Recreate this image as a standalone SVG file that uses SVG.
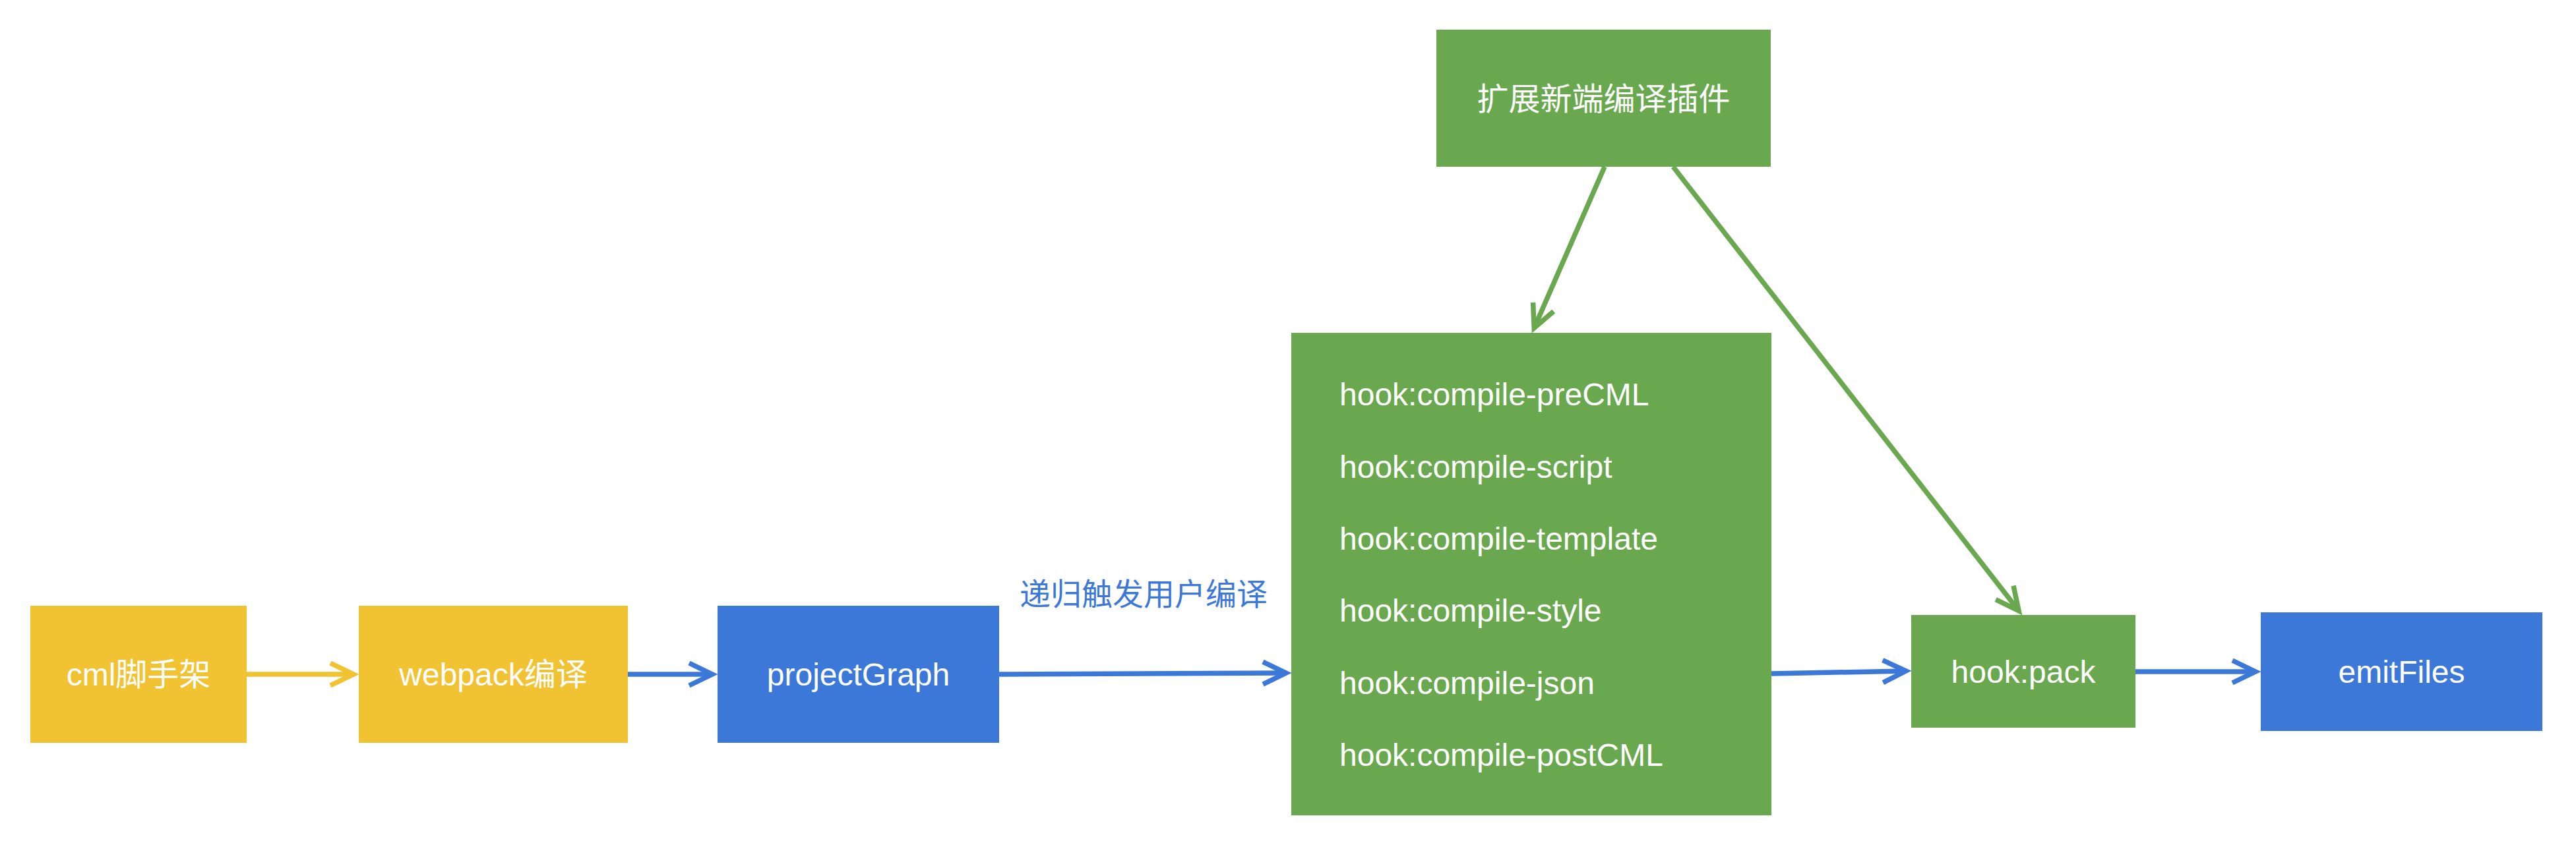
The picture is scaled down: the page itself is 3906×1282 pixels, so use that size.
<svg xmlns="http://www.w3.org/2000/svg" width="3906" height="1282" viewBox="0 0 3906 1282">
  <style>
    .y { fill: #F1C232; }
    .b { fill: #3C78D8; }
    .g { fill: #6AA84F; }
    .t { fill: #FFFFFF; font-family: "Liberation Sans", "Noto Sans CJK SC", sans-serif; font-size: 48px; }
    .c { text-anchor: middle; }
    .lbl { fill: #3C78D8; font-family: "Noto Sans CJK SC", sans-serif; font-size: 47px; text-anchor: middle; }
    .ln { fill: none; stroke-width: 7.5; }
    .ly { stroke: #F1C232; marker-end: url(#ay); }
    .lb { stroke: #3C78D8; marker-end: url(#ab); }
    .lg { stroke: #6AA84F; marker-end: url(#ag); }
  </style>
  <defs>
    <marker id="ay" markerUnits="userSpaceOnUse" markerWidth="80" markerHeight="80" viewBox="-50 -40 80 80" refX="0" refY="0" orient="auto" overflow="visible">
      <path d="M-35,-17 L0,0 L-35,17" fill="none" stroke="#F1C232" stroke-width="7.5" stroke-linejoin="miter"/>
    </marker>
    <marker id="ab" markerUnits="userSpaceOnUse" markerWidth="80" markerHeight="80" viewBox="-50 -40 80 80" refX="0" refY="0" orient="auto" overflow="visible">
      <path d="M-35,-17 L0,0 L-35,17" fill="none" stroke="#3C78D8" stroke-width="7.5" stroke-linejoin="miter"/>
    </marker>
    <marker id="ag" markerUnits="userSpaceOnUse" markerWidth="80" markerHeight="80" viewBox="-50 -40 80 80" refX="0" refY="0" orient="auto" overflow="visible">
      <path d="M-35,-17 L0,0 L-35,17" fill="none" stroke="#6AA84F" stroke-width="7.5" stroke-linejoin="miter"/>
    </marker>
  </defs>
  <rect width="3906" height="1282" fill="#FFFFFF"/>

  <g id="connectors">
    <line class="ln ly" x1="374" y1="1023" x2="536" y2="1023"/>
    <line class="ln lb" x1="952" y1="1023" x2="1080" y2="1023"/>
    <line class="ln lb" x1="1515" y1="1023" x2="1950" y2="1021"/>
    <line class="ln lb" x1="2686" y1="1022" x2="2890" y2="1018"/>
    <line class="ln lb" x1="3238" y1="1019" x2="3420" y2="1019"/>
    <line class="ln lg" x1="2433" y1="253" x2="2326.2" y2="497.7"/>
    <line class="ln lg" x1="2537" y1="253" x2="3061.1" y2="926.7"/>
    <text id="edge-label" class="lbl" x="1734" y="918">递归触发用户编译</text>
  </g>

  <g id="node-cml">
    <rect class="y" x="46" y="919" width="328" height="208"/>
    <text class="t c" x="210" y="1040">cml脚手架</text>
  </g>
  <g id="node-webpack">
    <rect class="y" x="544" y="919" width="408" height="208"/>
    <text class="t c" x="748" y="1040">webpack编译</text>
  </g>
  <g id="node-projectGraph">
    <rect class="b" x="1088" y="919" width="427" height="208"/>
    <text class="t c" x="1301.5" y="1040">projectGraph</text>
  </g>
  <g id="node-plugin">
    <rect class="g" x="2178" y="45" width="507" height="208"/>
    <text class="t c" x="2431.5" y="167">扩展新端编译插件</text>
  </g>
  <g id="node-compile">
    <rect class="g" x="1958" y="505" width="728" height="732"/>
    <text class="t" x="2031" y="615">hook:compile-preCML</text>
    <text class="t" x="2031" y="725">hook:compile-script</text>
    <text class="t" x="2031" y="834">hook:compile-template</text>
    <text class="t" x="2031" y="943">hook:compile-style</text>
    <text class="t" x="2031" y="1053">hook:compile-json</text>
    <text class="t" x="2031" y="1162">hook:compile-postCML</text>
  </g>
  <g id="node-pack">
    <rect class="g" x="2898" y="933" width="340" height="171"/>
    <text class="t c" x="3068" y="1036">hook:pack</text>
  </g>
  <g id="node-emitFiles">
    <rect class="b" x="3428" y="929" width="427" height="180"/>
    <text class="t c" x="3641.5" y="1036">emitFiles</text>
  </g>
</svg>
